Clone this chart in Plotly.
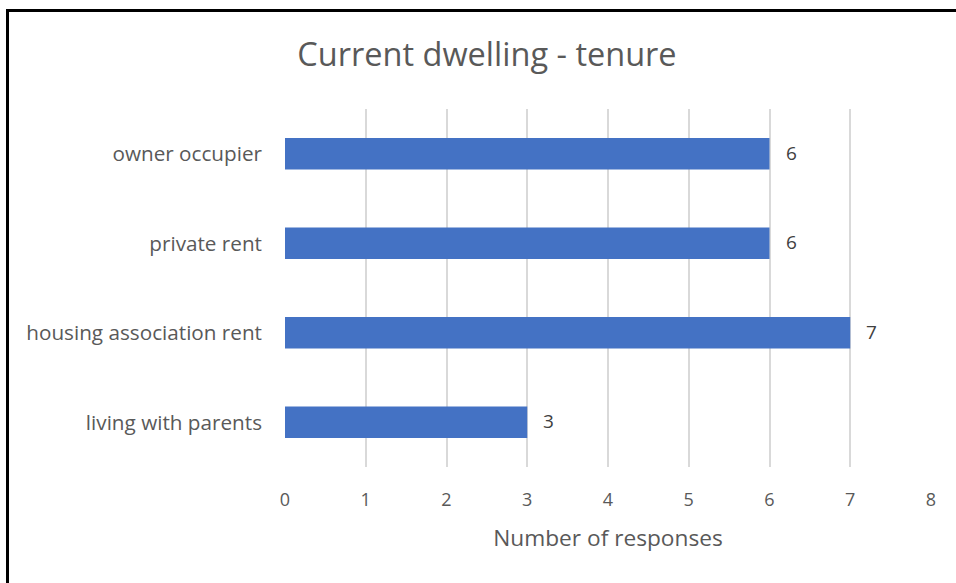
import plotly.graph_objects as go

categories = ["owner occupier", "private rent", "housing association rent", "living with parents"]
responses = [6, 6, 7, 3]
x_ticks = [0, 1, 2, 3, 4, 5, 6, 7, 8]

FONT = "Open Sans"
GREY = "#595959"

fig = go.Figure()
fig.add_trace(go.Bar(
    y=categories, x=responses, orientation="h",
    marker=dict(color="#4472C4", line=dict(width=0)),
    hoverinfo="x+y",
))

for c, v in zip(categories, responses):
    fig.add_annotation(x=v, y=c, text=str(v), showarrow=False,
                       xanchor="left", xshift=14, yshift=1,
                       font=dict(family=FONT, size=19, color="#404040"))

fig.update_layout(
    width=956, height=583,
    margin=dict(l=285, r=25, t=109, b=116),
    paper_bgcolor="white", plot_bgcolor="white",
    bargap=0.65,
    showlegend=False,
    title=dict(text="Current dwelling - tenure", x=(487 - 285) / 646, xref="paper",
               y=1 - 55 / 583, yanchor="middle", xanchor="center",
               font=dict(family=FONT, size=32.5, color=GREY)),
    xaxis=dict(range=[0, 8], tickvals=x_ticks, showgrid=True,
               gridcolor="#D9D9D9", gridwidth=2, zeroline=False,
               showline=False, ticks="", ticklabelstandoff=20,
               tickfont=dict(family=FONT, size=18, color=GREY),
               title=dict(text="Number of responses", standoff=20,
                          font=dict(family=FONT, size=22.7, color=GREY)),
               fixedrange=True),
    yaxis=dict(autorange="reversed", showgrid=False, zeroline=False,
               showline=False, ticks="", ticklabelstandoff=22,
               tickfont=dict(family=FONT, size=20.7, color=GREY),
               fixedrange=True),
    shapes=[dict(type="rect", xref="paper", yref="paper",
                 x0=(7.5 - 285) / 646, x1=1.2, y0=-0.5, y1=(467 - 10.5) / 358,
                 line=dict(color="black", width=3), fillcolor="rgba(0,0,0,0)",
                 layer="above")],
)

fig.write_html("out.html", config={"displayModeBar": False},
               post_script="document.body.style.margin='0';")
